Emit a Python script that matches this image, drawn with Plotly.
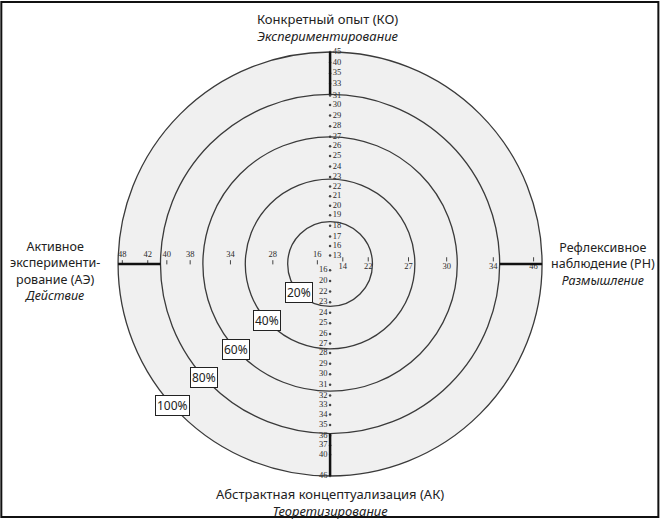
import math
import plotly.graph_objects as go

# ring levels (percent of the outer radius)
rings = [20, 40, 60, 80, 100]
ring_labels = ['20%', '40%', '60%', '80%', '100%']

# raw scores and the percentile ring each one sits on
ko_scores = ['13', '16', '17', '18', '19', '20', '21', '22', '23', '24', '25',
             '26', '27', '28', '29', '30', '31', '33', '35', '40', '45']
ko_pct = [4, 8.5, 13, 18, 23, 27.5, 32, 36.5, 41, 46, 51,
          55.5, 60, 65, 70, 75, 79.5, 85, 90, 95, 100]

ak_scores = ['16', '20', '22', '23', '24', '25', '26', '27', '28', '29',
             '30', '31', '32', '33', '34', '35', '36', '37', '40', '46']
ak_pct = [3, 8, 13, 18, 23, 28, 33, 37.5, 42, 47,
          52, 57, 62, 66.5, 71, 76, 81, 85.5, 90, 100]

ae_scores = ['16', '28', '34', '38', '40', '42', '48']
ae_pct = [6, 27, 47, 66, 77, 86, 98]

rn_scores = ['14', '22', '27', '30', '34', '46']
rn_pct = [6, 18, 37, 55, 77, 96]

pole_top = 'Конкретный опыт (КО)<br><i>Экспериментирование</i>'
pole_bottom = 'Абстрактная концептуализация (АК)<br><i>Теоретизирование</i>'
pole_left = 'Активное<br>эксперименти-<br>рование (АЭ)<br><i>Действие</i>'
pole_right = 'Рефлексивное<br>наблюдение (РН)<br><i>Размышление</i>'

num_font = dict(family='Liberation Serif', size=8.5, color='#2a2a2a')
txt_font = dict(family='Noto Sans', size=13, color='#222222')
side_font = dict(family='Noto Sans', size=12.5, color='#222222')

fig = go.Figure()

# concentric rings
shapes = [dict(type='circle', xref='x', yref='y', x0=-100, x1=100, y0=-100, y1=100,
               fillcolor='#f0f0f0', line=dict(width=0), layer='below')]
for r in rings:
    shapes.append(dict(type='circle', xref='x', yref='y', x0=-r, x1=r, y0=-r, y1=r,
                       line=dict(color='#3a3a3a', width=1.3)))

# thick axis ends between the 80% ring and the outer ring
for (x0, y0, x1, y1) in [(0, 80, 0, 100), (0, -80, 0, -100), (-80, 0, -100, 0), (80, 0, 100, 0)]:
    shapes.append(dict(type='line', xref='x', yref='y', x0=x0, y0=y0, x1=x1, y1=y1,
                       line=dict(color='#111111', width=2.5)))

# frame around the picture
shapes.append(dict(type='rect', xref='paper', yref='paper', x0=0.002, x1=0.996,
                   y0=0.021, y1=0.996, line=dict(color='#111111', width=2)))

# vertical axis: dots with scores beside them
fig.add_trace(go.Scatter(x=[0] * len(ko_pct), y=ko_pct, mode='markers+text', text=ko_scores,
                         textposition='middle right', textfont=num_font,
                         marker=dict(size=2.5, color='#444444'), hoverinfo='skip'))
fig.add_trace(go.Scatter(x=[0] * len(ak_pct), y=[-p for p in ak_pct], mode='markers+text',
                         text=ak_scores, textposition='middle left', textfont=num_font,
                         marker=dict(size=2.5, color='#444444'), hoverinfo='skip'))

# horizontal axis: scores with small ticks
fig.add_trace(go.Scatter(x=[-p for p in ae_pct], y=[0.8] * len(ae_pct), mode='markers+text',
                         text=ae_scores, textposition='top center', textfont=num_font,
                         marker=dict(symbol='line-ns', size=3, line=dict(width=1, color='#444444')),
                         hoverinfo='skip'))
fig.add_trace(go.Scatter(x=rn_pct, y=[2.2] * len(rn_pct), mode='markers',
                         marker=dict(symbol='line-ns', size=3, line=dict(width=1, color='#444444')),
                         hoverinfo='skip'))
fig.add_trace(go.Scatter(x=rn_pct, y=[-1.5] * len(rn_pct), mode='text', text=rn_scores,
                         textfont=num_font, hoverinfo='skip'))

annotations = []
# ring percentage boxes along the lower-left diagonal
for r, lab in zip(rings, ring_labels):
    a = math.radians(222)
    annotations.append(dict(x=r * math.cos(a), y=r * math.sin(a), xref='x', yref='y',
                            text=lab, showarrow=False, bgcolor='white',
                            bordercolor='#222222', borderwidth=1, borderpad=1,
                            font=dict(family='Noto Sans', size=12, color='#222222')))

annotations += [
    dict(x=-1, y=111.5, text=pole_top, showarrow=False, font=txt_font, xref='x', yref='y'),
    dict(x=0, y=-112.3, text=pole_bottom, showarrow=False, font=txt_font, xref='x', yref='y'),
    dict(x=-129.7, y=-3.5, text=pole_left, showarrow=False, font=side_font, xref='x', yref='y'),
    dict(x=128.8, y=0, text=pole_right, showarrow=False, font=side_font, xref='x', yref='y'),
]

fig.update_layout(
    width=661, height=528,
    margin=dict(l=0, r=0, t=0, b=0),
    paper_bgcolor='white', plot_bgcolor='white',
    showlegend=False,
    shapes=shapes, annotations=annotations,
    xaxis=dict(range=[-155.7, 156.1], visible=False, fixedrange=True),
    yaxis=dict(range=[-124.5, 124.5], visible=False, fixedrange=True,
               scaleanchor='x', scaleratio=1),
)

# drop the default page margin so the figure fills the window
fig.write_html('out.html', config={'displayModeBar': False},
               post_script="document.body.style.margin='0px';")
